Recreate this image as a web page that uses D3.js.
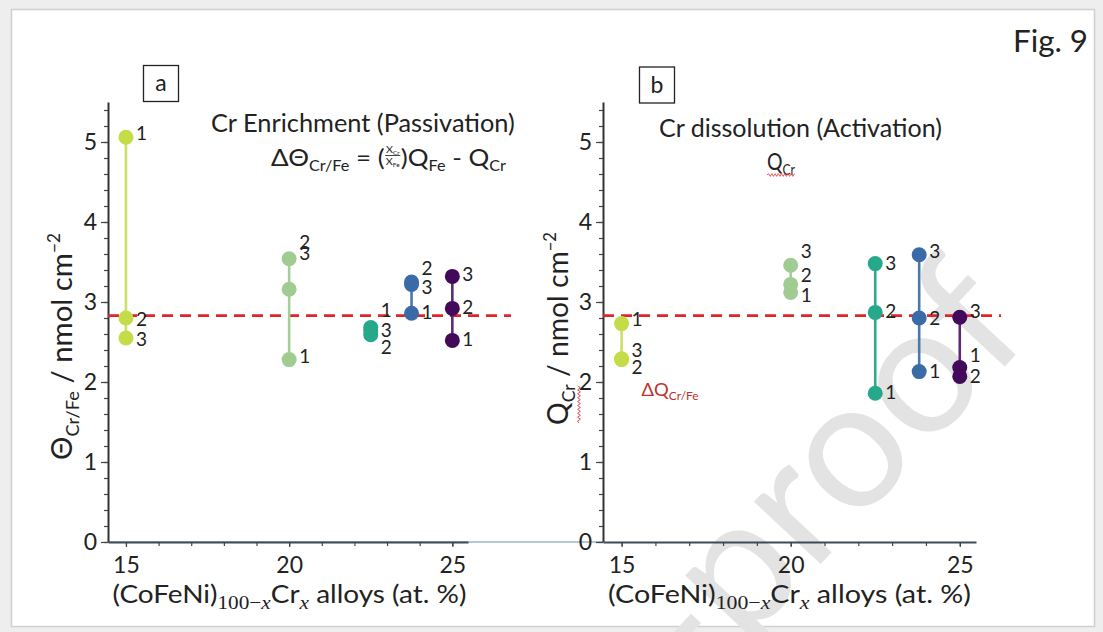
<!DOCTYPE html>
<html>
<head>
<meta charset="utf-8">
<script src="https://cdn.jsdelivr.net/npm/d3@7"></script>
<style>
  html, body { margin: 0; padding: 0; background: #fff; }
  svg { display: block; }
  text { white-space: pre; }
</style>
</head>
<body>
<script>
// Cr content of the five (CoFeNi)100-xCrx alloys, at.%
const alloyCrA = [15, 20, 22.5, 23.75, 25];
const alloyCrB = [15, 20, 22.5, 23.8, 25];

// Panel a: Cr enrichment charge, runs 1-3 (nmol cm-2)
const thetaRun1 = [5.06, 2.28, 2.68, 2.86, 2.52];
const thetaRun2 = [2.80, 3.54, 2.59, 3.25, 2.92];
const thetaRun3 = [2.55, 3.16, 2.64, 3.22, 3.32];
// where each run number is written
const thetaTag1 = [5.11, 2.32, 2.90, 2.87, 2.53];
const thetaTag2 = [2.78, 3.75, 2.43, 3.42, 2.93];
const thetaTag3 = [2.53, 3.61, 2.65, 3.19, 3.35];

// Panel b: Cr dissolution charge, runs 1-3 (nmol cm-2)
const qRun1 = [2.73, 3.12, 1.86, 2.13, 2.18];
const qRun2 = [2.28, 3.22, 2.87, 2.80, 2.07];
const qRun3 = [2.29, 3.46, 3.48, 3.59, 2.81];
const qTag1 = [2.78, 3.09, 1.87, 2.13, 2.34];
const qTag2 = [2.19, 3.33, 2.88, 2.80, 2.07];
const qTag3 = [2.40, 3.63, 3.48, 3.63, 2.88];

const runNames = ["1", "2", "3"];
const xTickValues = [15, 20, 25];
const yTickValues = [0, 1, 2, 3, 4, 5];
const referenceLevel = 2.83;
const groupColors = ["#c3dc47", "#a0cc92", "#25a98a", "#3b6ba7", "#43095a"];
const lineColors  = ["#c9e066", "#a4cf96", "#2bab8c", "#4a77ad", "#5a2a78"];

const W = 1103, H = 632;
const FONT = "Lato, 'Open Sans', sans-serif";
const SERIF = "'Liberation Serif', 'DejaVu Serif', serif";

const svg = d3.select("body").append("svg").attr("width", W).attr("height", H);

// page frame
svg.append("rect").attr("width", W).attr("height", H).attr("fill", "#eeeeee");
svg.append("rect").attr("x", 11.5).attr("y", 9.5).attr("width", 1083).attr("height", 617)
  .attr("fill", "#fff").attr("stroke", "#d0d0d0").attr("stroke-width", 1.5);

// watermark
svg.append("text")
  .attr("transform", "translate(1035,334) rotate(-47)")
  .attr("text-anchor", "end")
  .attr("font-family", FONT).attr("font-size", 180)
  .attr("fill", "#e3e3e3")
  .text("Journal Pre-proof");

// lays out a run of text pieces side by side (sub/superscripts via dy)
function richText(parent, parts) {
  const g = parent.append("g");
  let x = 0;
  parts.forEach(p => {
    if (p.frac) {
      const fg = g.append("g").attr("transform", `translate(${x},0)`);
      const w = p.w;
      const num = richText(fg, [{t: "X", size: 10}, {t: "Cr", size: 6, dy: 2}]);
      num.g.attr("transform", `translate(${(w - num.width) / 2},-13)`);
      fg.append("line").attr("x1", 0.5).attr("x2", w - 0.5).attr("y1", -10.5).attr("y2", -10.5)
        .attr("stroke", "#222").attr("stroke-width", 0.8);
      const den = richText(fg, [{t: "X", size: 10}, {t: "Fe", size: 6, dy: 2}]);
      den.g.attr("transform", `translate(${(w - den.width) / 2},-1.5)`);
      x += w;
      return;
    }
    const t = g.append("text")
      .attr("x", x).attr("y", p.dy || 0)
      .attr("font-family", p.family || FONT)
      .attr("font-size", p.size)
      .attr("font-style", p.italic ? "italic" : null)
      .attr("fill", p.fill || "#222")
      .text(p.t);
    p.x0 = x;
    x += t.node().getComputedTextLength();
    p.x1 = x;
  });
  return {g, width: x};
}

// places rich text at (x, y) stretched to a given width
function placeRich(parent, parts, x, y, targetWidth, anchor) {
  const r = richText(parent, parts);
  const sx = targetWidth ? targetWidth / r.width : 1;
  const w = r.width * sx;
  const ox = anchor === "middle" ? -w / 2 : 0;
  r.g.attr("transform", `translate(${x + ox},${y}) scale(${sx},1)`);
  return r;
}

function squiggle(parent, x0, x1, y) {
  let d = `M${x0},${y}`;
  let up = true;
  for (let x = x0 + 2; x <= x1; x += 2) { d += `L${x},${y + (up ? -1.4 : 1.4)}`; up = !up; }
  parent.append("path").attr("d", d).attr("fill", "none").attr("stroke", "#e03a3a").attr("stroke-width", 0.9);
}

const panels = [
  { xs: alloyCrA, runs: [thetaRun1, thetaRun2, thetaRun3], tags: [thetaTag1, thetaTag2, thetaTag3],
    range: [108, 468], refEnd: 26.8 },
  { xs: alloyCrB, runs: [qRun1, qRun2, qRun3], tags: [qTag1, qTag2, qTag3],
    range: [603, 976], refEnd: 26.22 }
];

const y = d3.scaleLinear().domain([0, 5.5]).range([542, 102]);

// thin baseline joining both panels at zero
svg.append("line").attr("x1", 108).attr("x2", 603).attr("y1", y(0)).attr("y2", y(0))
  .attr("stroke", "#6b8fc0").attr("stroke-width", 1.2);

panels.forEach(P => {
  const x = d3.scaleLinear().domain([14.45, 25.48]).range(P.range);
  const g = svg.append("g");

  // y axis: minor then major ticks
  const yMinor = g.append("g").attr("transform", `translate(${P.range[0]},0)`)
    .call(d3.axisLeft(y).tickValues(d3.range(0, 5.45, 0.2)).tickSize(4).tickSizeOuter(0).tickFormat(""));
  yMinor.select(".domain").remove();
  const yMajor = g.append("g").attr("transform", `translate(${P.range[0]},0)`)
    .call(d3.axisLeft(y).tickValues(yTickValues).tickSize(7).tickSizeOuter(0).tickPadding(4).tickFormat(d3.format("d")));
  yMajor.select(".domain").attr("stroke", "#333").attr("stroke-width", 2);
  yMajor.selectAll("text").attr("font-family", FONT).attr("font-size", 23).attr("fill", "#222");
  g.selectAll(".tick line").attr("stroke", "#444").attr("stroke-width", 1.2);

  // x axis
  const xMinor = g.append("g").attr("transform", `translate(0,${y(0)})`)
    .call(d3.axisBottom(x).tickValues(d3.range(15, 26, 1)).tickSize(4).tickSizeOuter(0).tickFormat(""));
  xMinor.select(".domain").attr("stroke", "#3e4a58").attr("stroke-width", 2);
  const xMajor = g.append("g").attr("transform", `translate(0,${y(0)})`)
    .call(d3.axisBottom(x).tickValues(xTickValues).tickSize(5).tickPadding(10).tickFormat(d3.format("d")));
  xMajor.select(".domain").remove();
  xMajor.selectAll("text").attr("font-family", FONT).attr("font-size", 23).attr("fill", "#222");
  g.selectAll(".tick line").attr("stroke", "#444").attr("stroke-width", 1.2);

  // reference level
  g.append("line")
    .attr("x1", x(14.45)).attr("x2", x(P.refEnd))
    .attr("y1", y(referenceLevel)).attr("y2", y(referenceLevel))
    .attr("stroke", "#e0242a").attr("stroke-width", 2.6).attr("stroke-dasharray", "11,7");

  // range line for each alloy
  const groups = P.xs.map((xv, i) => ({
    xv, i,
    lo: d3.min(P.runs, r => r[i]),
    hi: d3.max(P.runs, r => r[i])
  }));
  g.selectAll("line.span").data(groups).join("line").attr("class", "span")
    .attr("x1", d => x(d.xv)).attr("x2", d => x(d.xv))
    .attr("y1", d => y(d.lo)).attr("y2", d => y(d.hi))
    .attr("stroke", d => lineColors[d.i]).attr("stroke-width", 2.6);

  // run points and their numbers
  P.runs.forEach((run, r) => {
    g.selectAll(`circle.run${r}`).data(run).join("circle").attr("class", `run${r}`)
      .attr("cx", (d, i) => x(P.xs[i])).attr("cy", d => y(d)).attr("r", 7.5)
      .attr("fill", (d, i) => groupColors[i]);
  });
  P.tags.forEach((tag, r) => {
    g.selectAll(`text.tag${r}`).data(tag).join("text").attr("class", `tag${r}`)
      .attr("x", (d, i) => x(P.xs[i]) + 10).attr("y", d => y(d))
      .attr("dy", "0.36em")
      .attr("font-family", FONT).attr("font-size", 19).attr("fill", "#222")
      .text(runNames[r]);
  });

  P.x = x;
});

// x axis titles
function xTitleParts() {
  return [
    {t: "(CoFeNi)", size: 25},
    {t: "100\u2212", size: 19, family: SERIF, dy: 6},
    {t: "x", size: 19, family: SERIF, italic: true, dy: 6},
    {t: "Cr", size: 25},
    {t: "x", size: 19, family: SERIF, italic: true, dy: 6},
    {t: " alloys (at. %)", size: 25}
  ];
}
placeRich(svg, xTitleParts(), 112.5, 603, 354);
placeRich(svg, xTitleParts(), 608, 603, 363);

// y axis titles
const yA = svg.append("g").attr("transform", "translate(72,346.5) rotate(-90)");
placeRich(yA, [
  {t: "\u0398", size: 29},
  {t: "Cr/Fe", size: 18, dy: 7},
  {t: " / nmol cm", size: 29},
  {t: "\u22122", size: 17, dy: -12}
], 0, 0, 227, "middle");

const yB = svg.append("g").attr("transform", "translate(568,328.5) rotate(-90)");
const yBParts = [
  {t: "Q", size: 29},
  {t: "Cr", size: 18, dy: 7},
  {t: " / nmol cm", size: 29},
  {t: "\u22122", size: 17, dy: -12}
];
const yBr = placeRich(yB, yBParts, 0, 0, 193, "middle");
squiggle(yBr.g, yBParts[0].x0 + 2, yBParts[1].x1, 11);

// panel letters
[["a", 143, 65], ["b", 639, 66.5]].forEach(([t, bx, by]) => {
  svg.append("rect").attr("x", bx + 0.5).attr("y", by + 0.5).attr("width", 35).attr("height", 36)
    .attr("fill", "#fff").attr("stroke", "#222").attr("stroke-width", 1.3);
  svg.append("text").attr("x", bx + 18).attr("y", by + 26).attr("text-anchor", "middle")
    .attr("font-family", FONT).attr("font-size", 23).attr("fill", "#222").text(t);
});

// panel a annotation
placeRich(svg, [{t: "Cr Enrichment (Passivation)", size: 25}], 211, 131.5, 304);
placeRich(svg, [
  {t: "\u0394\u0398", size: 24},
  {t: "Cr/Fe", size: 15, dy: 5},
  {t: " = (", size: 24},
  {frac: true, w: 15},
  {t: ")Q", size: 24},
  {t: "Fe", size: 15, dy: 5},
  {t: " - Q", size: 24},
  {t: "Cr", size: 15, dy: 5}
], 271, 166, 235);

// panel b annotation
placeRich(svg, [{t: "Cr dissolution (Activation)", size: 25}], 659, 137, 283);
const qParts = [{t: "Q", size: 24}, {t: "Cr", size: 15, dy: 5}];
const qr = placeRich(svg, qParts, 767, 170, 28);
squiggle(qr.g, 0, qParts[1].x1, 5);

// red delta label in panel b
placeRich(svg, [
  {t: "\u0394Q", size: 17, fill: "#c0302a"},
  {t: "Cr/Fe", size: 11, dy: 4, fill: "#c0302a"}
], panels[1].x(15) + 20, y(1.83), 57);

// figure number
placeRich(svg, [{t: "Fig. 9", size: 31}], 1013, 52, 75);
</script>
</body>
</html>
